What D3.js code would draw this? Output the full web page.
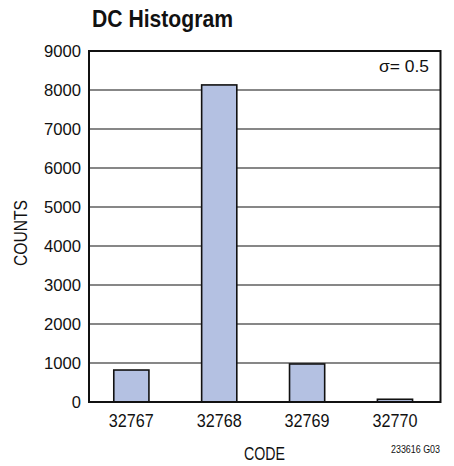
<!DOCTYPE html>
<html>
<head>
<meta charset="utf-8">
<script src="https://cdn.jsdelivr.net/npm/d3@7"></script>
<style>
  html, body { margin: 0; padding: 0; background: #fff; }
  svg { display: block; }
</style>
</head>
<body>
<svg id="chart" width="454" height="466"></svg>
<script>
const codes = ["32767", "32768", "32769", "32770"];
const counts = [820, 8130, 975, 70];
const yTicks = [0, 1000, 2000, 3000, 4000, 5000, 6000, 7000, 8000, 9000];
const title = "DC Histogram";
const xLabel = "CODE";
const yLabel = "COUNTS";
const note = "\u03c3= 0.5";
const figId = "233616 G03";

const font = "'Liberation Sans', Arial, Helvetica, sans-serif";

const L = 89, R = 440.5, T = 51, B = 402;
const svg = d3.select("#chart");

const x = d3.scaleBand().domain(codes).range([L, R]).paddingInner(0.6).paddingOuter(0.3).align(0.47);
const y = d3.scaleLinear().domain([0, 9000]).range([B, T]);

// gridlines
svg.append("g").selectAll("line").data(yTicks.slice(1, -1)).join("line")
  .attr("x1", L).attr("x2", R)
  .attr("y1", d => y(d)).attr("y2", d => y(d))
  .attr("stroke", "#111").attr("stroke-width", 1.2);

// bars
svg.append("g").selectAll("rect").data(codes).join("rect")
  .attr("x", d => x(d))
  .attr("width", x.bandwidth())
  .attr("y", (d, i) => y(counts[i]))
  .attr("height", (d, i) => y(0) - y(counts[i]))
  .attr("fill", "#b4c1e2")
  .attr("stroke", "#111").attr("stroke-width", 1.6);

// frame
svg.append("rect").attr("x", L).attr("y", T).attr("width", R - L).attr("height", B - T)
  .attr("fill", "none").attr("stroke", "#111").attr("stroke-width", 2);

// y axis labels
const yAxis = d3.axisLeft(y).tickValues(yTicks).tickSize(0).tickPadding(8).tickFormat(d3.format("d"));
const gy = svg.append("g").attr("transform", `translate(${L},0)`).call(yAxis);
gy.select(".domain").remove();
gy.selectAll("text").attr("font-family", font).attr("font-size", 16.5).attr("fill", "#111")
  .attr("textLength", 37).attr("lengthAdjust", "spacingAndGlyphs");
gy.selectAll(".tick").filter(d => d === 0).select("text").attr("textLength", null);

// x axis labels
const xAxis = d3.axisBottom(x).tickSize(0).tickPadding(12);
const gx = svg.append("g").attr("transform", `translate(0,${B})`).call(xAxis);
gx.select(".domain").remove();
gx.selectAll("text").attr("font-family", font).attr("font-size", 18.5).attr("fill", "#111")
  .attr("textLength", 45).attr("lengthAdjust", "spacingAndGlyphs");

// title
svg.append("text").attr("x", 92).attr("y", 27).text(title)
  .attr("font-family", font).attr("font-weight", "bold").attr("font-size", 24).attr("fill", "#111")
  .attr("textLength", 141).attr("lengthAdjust", "spacingAndGlyphs");

// axis titles
svg.append("text").attr("x", 264.5).attr("y", 460).attr("text-anchor", "middle").text(xLabel)
  .attr("font-family", font).attr("font-size", 19).attr("fill", "#111")
  .attr("textLength", 41).attr("lengthAdjust", "spacingAndGlyphs");
svg.append("text").attr("transform", "translate(27,233) rotate(-90)").attr("text-anchor", "middle").text(yLabel)
  .attr("font-family", font).attr("font-size", 19).attr("fill", "#111")
  .attr("textLength", 66).attr("lengthAdjust", "spacingAndGlyphs");

// sigma annotation
svg.append("text").attr("x", 429).attr("y", 71.5).attr("text-anchor", "end")
  .attr("font-family", font).attr("font-size", 16.5).attr("fill", "#111")
  .attr("textLength", 50).attr("lengthAdjust", "spacingAndGlyphs")
  .text(note);

// figure id
svg.append("text").attr("x", 440).attr("y", 453).attr("text-anchor", "end").text(figId)
  .attr("font-family", font).attr("font-size", 11.5).attr("fill", "#111")
  .attr("textLength", 49).attr("lengthAdjust", "spacingAndGlyphs");
</script>
</body>
</html>
